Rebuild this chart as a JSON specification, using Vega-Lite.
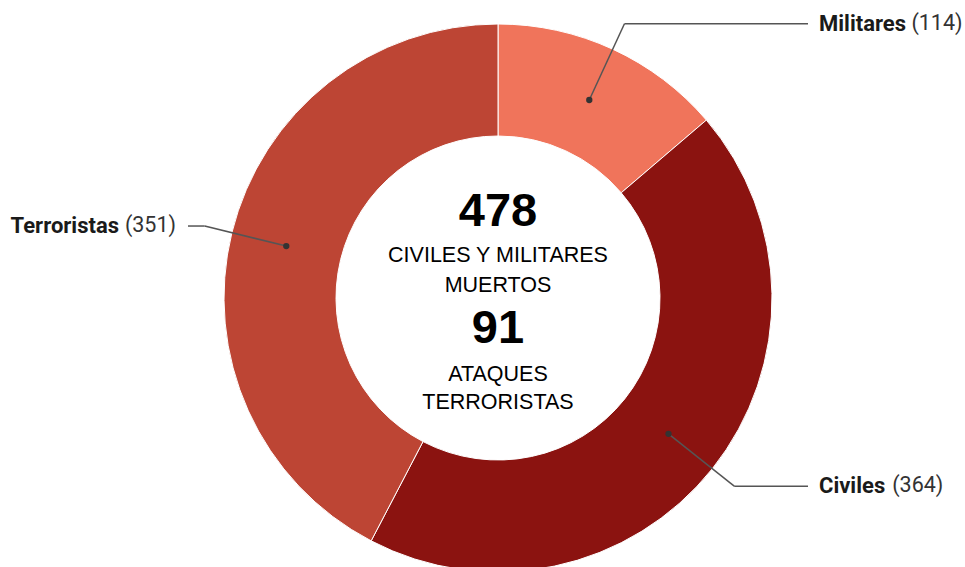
{
  "$schema": "https://vega.github.io/schema/vega-lite/v6.json",
  "width": 900,
  "height": 538,
  "padding": {"left": 48, "top": 29, "right": 17, "bottom": 0},
  "autosize": {"type": "none"},
  "background": "white",
  "config": {"view": {"stroke": null}},
  "data": {
    "values": [
      {"categoria": "Militares", "valor": 114, "orden": 1},
      {"categoria": "Civiles", "valor": 364, "orden": 2},
      {"categoria": "Terroristas", "valor": 351, "orden": 3}
    ]
  },
  "transform": [
    {"joinaggregate": [{"op": "sum", "field": "valor", "as": "total"}]},
    {"window": [{"op": "sum", "field": "valor", "as": "acum"}], "sort": [{"field": "orden"}], "frame": [null, 0]},
    {"calculate": "2*PI*(datum.acum - datum.valor/2)/datum.total", "as": "ang"},
    {"calculate": "218*sin(datum.ang)", "as": "x1"},
    {"calculate": "218*cos(datum.ang)", "as": "y1"},
    {"calculate": "302*sin(datum.ang)", "as": "x2"},
    {"calculate": "302*cos(datum.ang)", "as": "y2"},
    {"calculate": "datum.x2 > 0 ? 310 : -310", "as": "x3"},
    {"calculate": "datum.x2 > 0 ? 321 : -379", "as": "xn"},
    {"calculate": "datum.x2 > 0 ? 321 + 9.6*length(datum.categoria) + 6 : -322", "as": "xc"},
    {"calculate": "'(' + datum.valor + ')'", "as": "cuenta"}
  ],
  "layer": [
    {
      "mark": {"type": "arc", "outerRadius": 274, "innerRadius": 162, "stroke": "white", "strokeWidth": 1},
      "encoding": {
        "theta": {"field": "valor", "type": "quantitative", "stack": true},
        "order": {"field": "orden", "type": "quantitative"},
        "color": {
          "field": "categoria",
          "type": "nominal",
          "scale": {"domain": ["Militares", "Civiles", "Terroristas"], "range": ["#F0745B", "#8B1310", "#BD4534"]},
          "legend": null
        }
      }
    },
    {
      "mark": {"type": "rule", "color": "#555555", "strokeWidth": 1.5},
      "encoding": {
        "x": {"field": "x1", "type": "quantitative", "scale": {"domain": [-450, 450]}, "axis": null},
        "y": {"field": "y1", "type": "quantitative", "scale": {"domain": [-269, 269]}, "axis": null},
        "x2": {"field": "x2"},
        "y2": {"field": "y2"}
      }
    },
    {
      "mark": {"type": "rule", "color": "#555555", "strokeWidth": 1.5},
      "encoding": {
        "x": {"field": "x2", "type": "quantitative", "scale": {"domain": [-450, 450]}, "axis": null},
        "y": {"field": "y2", "type": "quantitative", "scale": {"domain": [-269, 269]}, "axis": null},
        "x2": {"field": "x3"}
      }
    },
    {
      "mark": {"type": "point", "filled": true, "size": 40, "color": "#333333", "opacity": 1},
      "encoding": {
        "x": {"field": "x1", "type": "quantitative", "scale": {"domain": [-450, 450]}, "axis": null},
        "y": {"field": "y1", "type": "quantitative", "scale": {"domain": [-269, 269]}, "axis": null}
      }
    },
    {
      "transform": [{"filter": "datum.x2 > 0"}],
      "mark": {"type": "text", "align": "left", "baseline": "middle", "font": "Roboto", "fontSize": 22, "fontWeight": "bold", "color": "#1a1a1a"},
      "encoding": {
        "x": {"field": "xn", "type": "quantitative", "scale": {"domain": [-450, 450]}, "axis": null},
        "y": {"field": "y2", "type": "quantitative", "scale": {"domain": [-269, 269]}, "axis": null},
        "text": {"field": "categoria"}
      }
    },
    {
      "transform": [{"filter": "datum.x2 > 0"}],
      "mark": {"type": "text", "align": "left", "baseline": "middle", "font": "Roboto", "fontSize": 21.5, "color": "#333333"},
      "encoding": {
        "x": {"field": "xc", "type": "quantitative", "scale": {"domain": [-450, 450]}, "axis": null},
        "y": {"field": "y2", "type": "quantitative", "scale": {"domain": [-269, 269]}, "axis": null},
        "text": {"field": "cuenta"}
      }
    },
    {
      "transform": [{"filter": "datum.x2 < 0"}],
      "mark": {"type": "text", "align": "right", "baseline": "middle", "font": "Roboto", "fontSize": 22, "fontWeight": "bold", "color": "#1a1a1a"},
      "encoding": {
        "x": {"field": "xn", "type": "quantitative", "scale": {"domain": [-450, 450]}, "axis": null},
        "y": {"field": "y2", "type": "quantitative", "scale": {"domain": [-269, 269]}, "axis": null},
        "text": {"field": "categoria"}
      }
    },
    {
      "transform": [{"filter": "datum.x2 < 0"}],
      "mark": {"type": "text", "align": "right", "baseline": "middle", "font": "Roboto", "fontSize": 21.5, "color": "#333333"},
      "encoding": {
        "x": {"field": "xc", "type": "quantitative", "scale": {"domain": [-450, 450]}, "axis": null},
        "y": {"field": "y2", "type": "quantitative", "scale": {"domain": [-269, 269]}, "axis": null},
        "text": {"field": "cuenta"}
      }
    },
    {
      "data": {"values": [{"t": "478"}]},
      "mark": {"type": "text", "align": "center", "baseline": "middle", "dy": -86, "font": "Liberation Sans", "fontSize": 47, "fontWeight": "bold", "color": "#000000"},
      "encoding": {"text": {"field": "t"}}
    },
    {
      "data": {"values": [{"t": "CIVILES Y MILITARES"}]},
      "mark": {"type": "text", "align": "center", "baseline": "middle", "dy": -42, "font": "Liberation Sans", "fontSize": 21.5, "color": "#000000"},
      "encoding": {"text": {"field": "t"}}
    },
    {
      "data": {"values": [{"t": "MUERTOS"}]},
      "mark": {"type": "text", "align": "center", "baseline": "middle", "dy": -12, "font": "Liberation Sans", "fontSize": 21.5, "color": "#000000"},
      "encoding": {"text": {"field": "t"}}
    },
    {
      "data": {"values": [{"t": "91"}]},
      "mark": {"type": "text", "align": "center", "baseline": "middle", "dy": 31, "font": "Liberation Sans", "fontSize": 47, "fontWeight": "bold", "color": "#000000"},
      "encoding": {"text": {"field": "t"}}
    },
    {
      "data": {"values": [{"t": "ATAQUES"}]},
      "mark": {"type": "text", "align": "center", "baseline": "middle", "dy": 77, "font": "Liberation Sans", "fontSize": 21.5, "color": "#000000"},
      "encoding": {"text": {"field": "t"}}
    },
    {
      "data": {"values": [{"t": "TERRORISTAS"}]},
      "mark": {"type": "text", "align": "center", "baseline": "middle", "dy": 105, "font": "Liberation Sans", "fontSize": 21.5, "color": "#000000"},
      "encoding": {"text": {"field": "t"}}
    }
  ]
}
